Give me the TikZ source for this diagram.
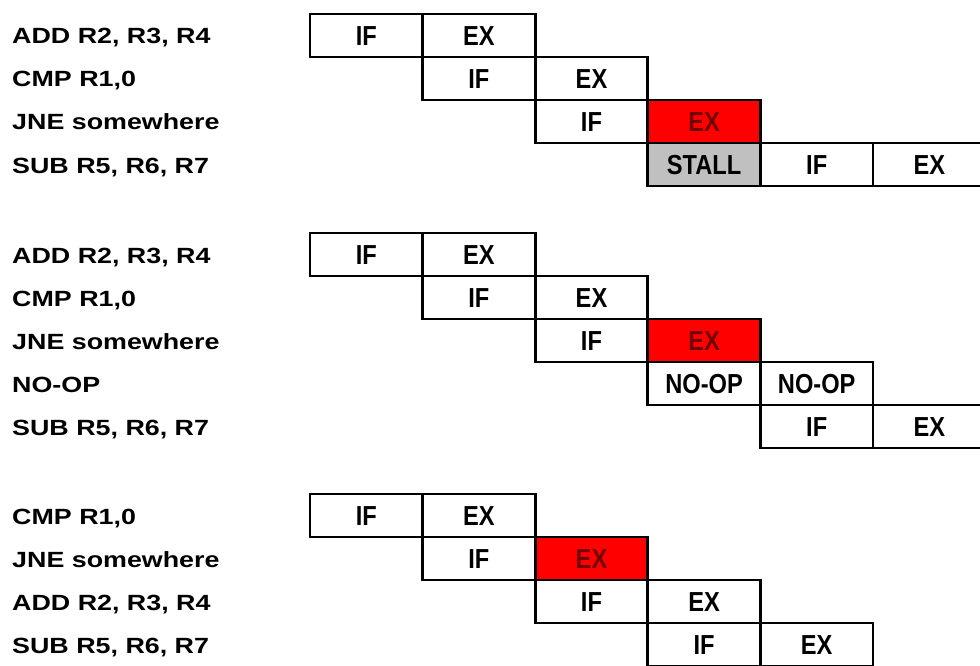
\documentclass[tikz,border=0pt]{standalone}
\usepackage{fontspec}
\setmainfont{Liberation Sans}
\newfontfamily\labelfont[FakeStretch=1.22]{Liberation Sans Bold}
\newfontfamily\boxfont[FakeStretch=0.86]{Liberation Sans Bold}
\definecolor{stallgray}{RGB}{192,192,192}
\definecolor{hazardred}{RGB}{255,0,0}
\definecolor{hazardtext}{RGB}{115,0,0}
\tikzset{
  stage/.style={draw=black, line width=2.8pt, minimum width=112.6pt, minimum height=43pt,
    inner sep=0pt, text height=19.5pt, text depth=0pt,
    font=\boxfont\fontsize{27.5}{27.5}\selectfont},
  hazard/.style={stage, fill=hazardred, text=hazardtext},
  stallbox/.style={stage, fill=stallgray},
  instr/.style={anchor=base west, inner sep=0pt, font=\labelfont\fontsize{22}{22}\selectfont}
}
\begin{document}
\begin{tikzpicture}[x=1pt,y=-1pt]
\useasboundingbox (0,0) rectangle (980,666);
\clip (0,0) rectangle (980,666);
\fill[white] (0,0) rectangle (980,666);
% column centres: 366.3 + 112.6 k
% ---------- group 1 (top 14) ----------
\node[instr] (l1a) at (12,44)  {ADD R2, R3, R4};
\node[instr] (l1b) at (12,87)  {CMP R1,0};
\node[instr] (l1c) at (12,130) {JNE somewhere};
\node[instr] (l1d) at (12,173) {SUB R5, R6, R7};
\node[stage] (g1a1) at (366.3,35.5) {IF};
\node[stage] (g1a2) at (478.9,35.5) {EX};
\node[stage] (g1b1) at (478.9,78.5) {IF};
\node[stage] (g1b2) at (591.5,78.5) {EX};
\node[stage] (g1c1) at (591.5,121.5) {IF};
\node[hazard] (g1c2) at (704.1,121.5) {EX};
\node[stallbox] (g1d1) at (704.1,164.5) {STALL};
\node[stage] (g1d2) at (816.7,164.5) {IF};
\node[stage] (g1d3) at (929.3,164.5) {EX};
% ---------- group 2 (top 233) ----------
\node[instr] (l2a) at (12,263) {ADD R2, R3, R4};
\node[instr] (l2b) at (12,306) {CMP R1,0};
\node[instr] (l2c) at (12,349) {JNE somewhere};
\node[instr] (l2d) at (12,392) {NO-OP};
\node[instr] (l2e) at (12,435) {SUB R5, R6, R7};
\node[stage] (g2a1) at (366.3,254.5) {IF};
\node[stage] (g2a2) at (478.9,254.5) {EX};
\node[stage] (g2b1) at (478.9,297.5) {IF};
\node[stage] (g2b2) at (591.5,297.5) {EX};
\node[stage] (g2c1) at (591.5,340.5) {IF};
\node[hazard] (g2c2) at (704.1,340.5) {EX};
\node[stage] (g2d1) at (704.1,383.5) {NO-OP};
\node[stage] (g2d2) at (816.7,383.5) {NO-OP};
\node[stage] (g2e1) at (816.7,426.5) {IF};
\node[stage] (g2e2) at (929.3,426.5) {EX};
% ---------- group 3 (top 494) ----------
\node[instr] (l3a) at (12,524) {CMP R1,0};
\node[instr] (l3b) at (12,567) {JNE somewhere};
\node[instr] (l3c) at (12,610) {ADD R2, R3, R4};
\node[instr] (l3d) at (12,653) {SUB R5, R6, R7};
\node[stage] (g3a1) at (366.3,515.5) {IF};
\node[stage] (g3a2) at (478.9,515.5) {EX};
\node[stage] (g3b1) at (478.9,558.5) {IF};
\node[hazard] (g3b2) at (591.5,558.5) {EX};
\node[stage] (g3c1) at (591.5,601.5) {IF};
\node[stage] (g3c2) at (704.1,601.5) {EX};
\node[stage] (g3d1) at (704.1,644.5) {IF};
\node[stage] (g3d2) at (816.7,644.5) {EX};
\end{tikzpicture}
\end{document}
